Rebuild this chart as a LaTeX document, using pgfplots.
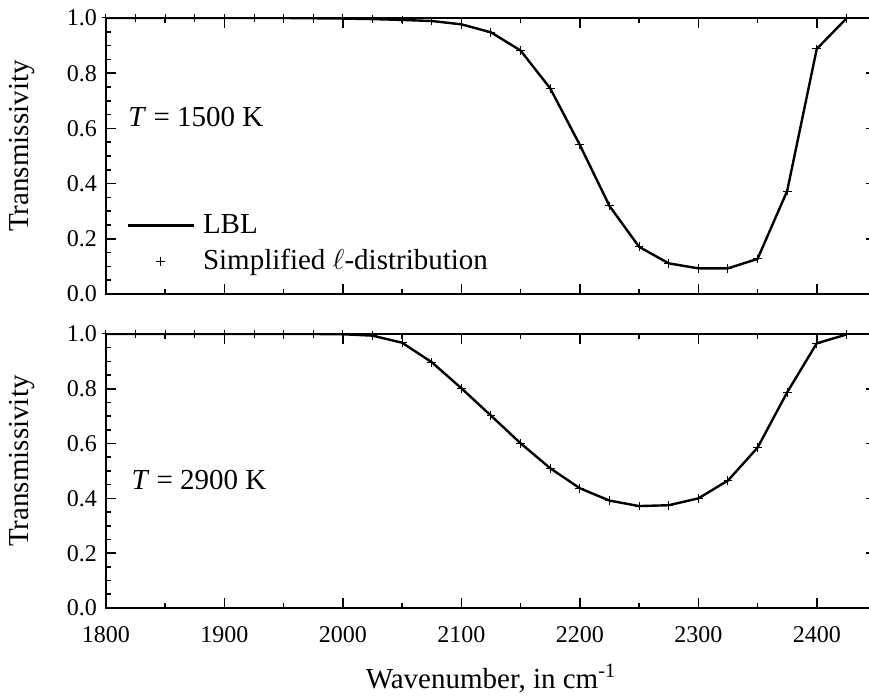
\documentclass[border=0pt]{standalone}
\usepackage{pgfplots}
\usepackage{pgfplotstable}
\pgfplotsset{compat=1.18}
\usepackage{fontspec}
\setmainfont{Liberation Serif}

\pgfplotstableread{
w t
1800 1.000
1825 1.000
1850 1.000
1875 1.000
1900 1.000
1925 1.000
1950 1.000
1975 0.999
2000 0.998
2025 0.996
2050 0.993
2075 0.989
2100 0.977
2125 0.948
2150 0.882
2175 0.745
2200 0.540
2225 0.319
2250 0.171
2275 0.111
2300 0.093
2325 0.093
2350 0.127
2375 0.373
2400 0.888
2425 0.998
}\tablelow

\pgfplotstableread{
w t
1800 1.000
1825 1.000
1850 1.000
1875 1.000
1900 1.000
1925 1.000
1950 1.000
1975 1.000
2000 0.999
2025 0.994
2050 0.968
2075 0.897
2100 0.802
2125 0.702
2150 0.601
2175 0.510
2200 0.437
2225 0.392
2250 0.372
2275 0.375
2300 0.400
2325 0.465
2350 0.585
2375 0.787
2400 0.966
2425 0.998
}\tablehigh

\pgfplotsset{
  panel/.style={
    scale only axis,
    width=385pt,
    xmin=1800, xmax=2450, ymin=0, ymax=1,
    xtick={1800,1900,2000,2100,2200,2300,2400},
    minor x tick num=1,
    ytick={0,0.2,0.4,0.6,0.8,1.0},
    minor y tick num=3,
    tick align=inside,
    major tick length=5pt,
    minor tick length=2.5pt,
    axis line style={line width=1pt},
    every tick/.style={black, line width=0.8pt},
    /pgf/number format/assume math mode=true,
    /pgf/number format/1000 sep={},
    yticklabel style={/pgf/number format/fixed, /pgf/number format/fixed zerofill, /pgf/number format/precision=1, /tikz/xshift=-1pt},
    xticklabel style={/tikz/yshift=-5.5pt},
    ticklabel style={font=\fontsize{12}{14}\selectfont},
    ylabel={Transmissivity},
    ylabel style={at={(axis description cs:-0.109,0.536)}, anchor=center, font=\fontsize{14.5}{17}\selectfont},
  },
  lblline/.style={black, line width=1.2pt},
  lblmark/.style={only marks, mark=+, mark size=2.2pt, black, line width=0.5pt},
  lineleg/.style={legend image code/.code={\draw[##1] (0pt,0pt) -- (33pt,0pt);}},
  markleg/.style={legend image code/.code={\path[draw=none] (0pt,0pt) -- (33pt,0pt); \draw[mark repeat=2, mark phase=2, ##1] plot coordinates {(0pt,0pt) (16.5pt,0pt) (33pt,0pt)};}},
}

\begin{document}
\begin{tikzpicture}
\begin{axis}[panel,
  height=138pt,
  at={(0,0)}, anchor=south west,
  xticklabels={},
  legend style={at={(axis cs:1812,0.315)}, anchor=north west, draw=none, fill=none,
    font=\fontsize{14.5}{17}\selectfont, nodes={inner sep=1.5pt}, row sep=3.5pt, column sep=2.5pt},
  legend cell align=left,
]
\addplot[lblline, lineleg] table[x=w,y=t] {\tablelow};
\addlegendentry{LBL}
\addplot[lblmark, markleg] table[x=w,y=t] {\tablelow};
\addlegendentry{Simplified $\ell$-distribution}
\node[anchor=west, font=\fontsize{14.5}{17}\selectfont] at (rel axis cs:0.02,0.641) {\textit{T} = 1500 K};
\end{axis}

\begin{axis}[panel,
  height=137pt,
  at={(0,-157pt)}, anchor=south west,
  xlabel={Wavenumber, in cm\textsuperscript{-1}},
  xlabel style={at={(axis description cs:0.5,-0.292)}, anchor=base, font=\fontsize{14.5}{17}\selectfont},
]
\addplot[lblline] table[x=w,y=t] {\tablehigh};
\addplot[lblmark] table[x=w,y=t] {\tablehigh};
\node[anchor=west, font=\fontsize{14.5}{17}\selectfont] at (rel axis cs:0.024,0.467) {\textit{T} = 2900 K};
\end{axis}
\pgfresetboundingbox
\path[use as bounding box] (-53pt,-202.5pt) rectangle (381.5pt,147pt);
\end{tikzpicture}
\end{document}
